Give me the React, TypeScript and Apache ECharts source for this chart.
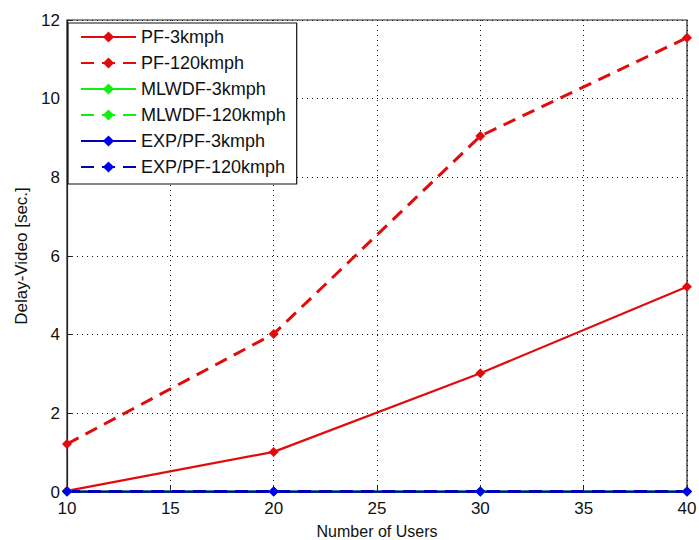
import React, { useEffect, useRef } from "react";
import * as echarts from "echarts";

const users = [10, 20, 30, 40];
const pf3 = [0.03, 1.02, 3.02, 5.22];
const pf120 = [1.22, 4.02, 9.05, 11.55];
const mlwdf3 = [0.01, 0.01, 0.01, 0.01];
const mlwdf120 = [0.01, 0.01, 0.01, 0.01];
const exp3 = [0.01, 0.01, 0.01, 0.01];
const exp120 = [0.01, 0.01, 0.01, 0.01];

const RED = "#e00c0c";
const GREEN = "#11ee11";
const BLUE_LINE = "#0000b4";
const BLUE_MARK = "#0000f0";

function mk(name: string, vals: number[], color: string, mark: string, dashed: boolean) {
  return {
    name,
    type: "line",
    data: users.map((u, i) => [u, vals[i]]),
    symbol: "diamond",
    symbolSize: 10,
    showSymbol: true,
    lineStyle: { color, width: dashed ? 3 : 2.2, type: dashed ? [13, 8] : "solid" },
    itemStyle: { color: mark },
    z: 3,
  };
}

export default function App() {
  const ref = useRef<HTMLDivElement>(null);
  useEffect(() => {
    if (!ref.current) return;
    const chart = echarts.init(ref.current, null, { renderer: "svg" });
    const font = "Arial, 'Liberation Sans', sans-serif";
    chart.setOption({
      animation: false,
      backgroundColor: "#ffffff",
      textStyle: { fontFamily: font },
      grid: {
        left: 67, right: 12, top: 20, bottom: 48,
        outerBoundsMode: "none", containLabel: false,
        show: true, borderColor: "#222", borderWidth: 1.2,
      },
      legend: {
        orient: "vertical",
        left: 68,
        top: 23,
        backgroundColor: "#fff",
        borderColor: "#111",
        borderWidth: 1.2,
        borderRadius: 0,
        padding: [5, 11, 8, 12],
        itemWidth: 55,
        itemHeight: 14,
        itemGap: 8,
        textStyle: { fontSize: 18, lineHeight: 18, color: "#111", fontFamily: font },
        data: ["PF-3kmph", "PF-120kmph", "MLWDF-3kmph", "MLWDF-120kmph", "EXP/PF-3kmph", "EXP/PF-120kmph"],
      },
      xAxis: {
        type: "value",
        min: 10,
        max: 40,
        interval: 5,
        name: "Number of Users",
        nameLocation: "middle",
        nameGap: 31,
        nameTextStyle: { fontSize: 16, color: "#111" },
        axisLine: { lineStyle: { color: "#222", width: 1.2 } },
        axisTick: { inside: true, length: 6, lineStyle: { color: "#222" } },
        axisLabel: { fontSize: 17, color: "#111", margin: 8 },
        splitLine: { show: true, lineStyle: { color: "#111", type: [1, 4], width: 1 } },
      },
      yAxis: {
        type: "value",
        min: 0,
        max: 12,
        interval: 2,
        name: "Delay-Video [sec.]",
        nameLocation: "middle",
        nameGap: 37,
        nameTextStyle: { fontSize: 17, color: "#111" },
        axisLine: { show: true, lineStyle: { color: "#222", width: 1.2 } },
        axisTick: { show: true, inside: true, length: 6, lineStyle: { color: "#222" } },
        axisLabel: { fontSize: 17, color: "#111", margin: 7 },
        splitLine: { show: true, lineStyle: { color: "#111", type: [1, 4], width: 1 } },
      },
      series: [
        mk("PF-3kmph", pf3, RED, RED, false),
        mk("PF-120kmph", pf120, RED, RED, true),
        mk("MLWDF-3kmph", mlwdf3, GREEN, GREEN, false),
        mk("MLWDF-120kmph", mlwdf120, GREEN, GREEN, true),
        mk("EXP/PF-3kmph", exp3, BLUE_LINE, BLUE_MARK, false),
        mk("EXP/PF-120kmph", exp120, BLUE_LINE, BLUE_MARK, true),
      ],
    });
    return () => chart.dispose();
  }, []);
  return <div ref={ref} style={{ width: 699, height: 540, position: "absolute", left: 0, top: 0 }} />;
}
